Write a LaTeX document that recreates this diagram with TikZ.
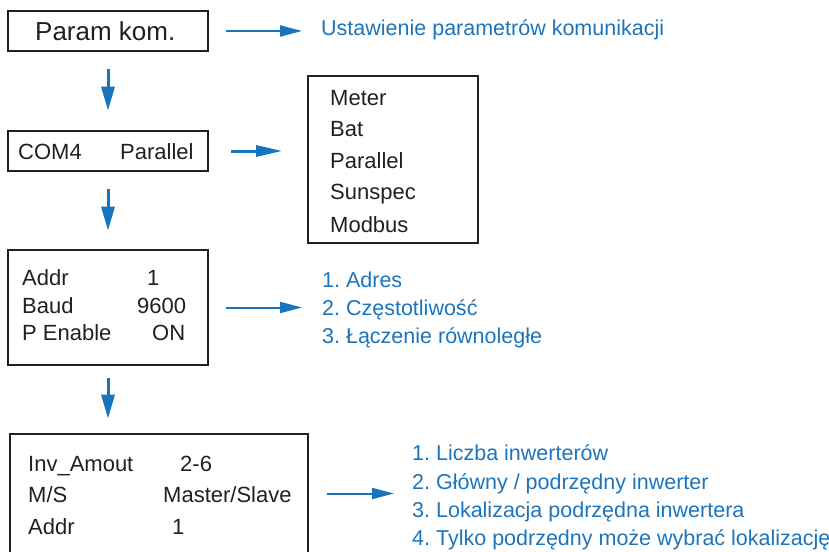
\documentclass[tikz,border=0pt]{standalone}
\usepackage{fontspec}
\setmainfont{Liberation Sans}
\usetikzlibrary{arrows.meta}

\definecolor{arrowblue}{RGB}{24,116,188}
\definecolor{noteblue}{RGB}{28,117,188}
\definecolor{frame}{RGB}{35,31,32}

\tikzset{
  panel/.style={draw=frame, line width=2.6pt, inner sep=0pt},
  listpanel/.style={draw=frame, line width=1.6pt, inner sep=0pt},
  lbl/.style={inner sep=0pt, anchor=base west, text=frame, font=\fontsize{22}{26}\selectfont},
  biglbl/.style={inner sep=0pt, anchor=base west, text=frame, font=\fontsize{26}{30}\selectfont},
  note/.style={inner sep=0pt, anchor=base west, text=noteblue, font=\fontsize{21.5}{25}\selectfont},
  flow/.style={draw=arrowblue, line width=2pt, -{Triangle[length=22pt,width=11pt]}},
  flowthick/.style={draw=arrowblue, line width=3pt, -{Triangle[length=26pt,width=11pt]}},
  flowdown/.style={draw=arrowblue, line width=3pt, -{Triangle[length=24pt,width=13pt]}},
}

\begin{document}
\frenchspacing
\begin{tikzpicture}[x=1pt, y=-1pt]
  \useasboundingbox (0,0) rectangle (829,551);
  \clip (0,0) rectangle (829,551);

  % menu panels
  \node[panel, minimum width=200pt, minimum height=40pt]  (b1) at (108,31) {};
  \node[panel, minimum width=200pt, minimum height=40pt]  (b2) at (108,151) {};
  \node[panel, minimum width=200pt, minimum height=115pt] (b3) at (108,307.5) {};
  \node[panel, minimum width=298pt, minimum height=119pt] (b4) at (159,493.5) {};
  \node[listpanel, minimum width=170pt, minimum height=167pt] (menu) at (393,159.5) {};

  % panel texts
  \node[biglbl] (t1) at (35,41) {Param kom.};

  \node[lbl] (t2a) at (18,159) {COM4};
  \node[lbl] (t2b) at (120,159) {Parallel};

  \node[lbl] (t3a) at (22,285) {Addr};
  \node[lbl] (t3b) at (147,285) {1};
  \node[lbl] (t3c) at (22,313) {Baud};
  \node[lbl] (t3d) at (137,313) {9600};
  \node[lbl] (t3e) at (22,340) {P Enable};
  \node[lbl] (t3f) at (152,340) {ON};

  \node[lbl] (t4a) at (28,471) {Inv\_Amout};
  \node[lbl] (t4b) at (180,471) {2-6};
  \node[lbl] (t4c) at (28,502) {M/S};
  \node[lbl] (t4d) at (163,502) {Master/Slave};
  \node[lbl] (t4e) at (28,534) {Addr};
  \node[lbl] (t4f) at (172,534) {1};

  \node[lbl] (m1) at (330,105) {Meter};
  \node[lbl] (m2) at (330,136) {Bat};
  \node[lbl] (m3) at (330,168) {Parallel};
  \node[lbl] (m4) at (330,199) {Sunspec};
  \node[lbl] (m5) at (330,232) {Modbus};

  % explanations
  \node[note] (u) at (321,36) {Ustawienie parametrów komunikacji};

  \node[note] (n31) at (322,287) {1. Adres};
  \node[note] (n32) at (322,315) {2. Częstotliwość};
  \node[note] (n33) at (322,343) {3. Łączenie równoległe};

  \node[note] (n41) at (412,460) {1. Liczba inwerterów};
  \node[note] (n42) at (412,489) {2. Główny / podrzędny inwerter};
  \node[note] (n43) at (412,517) {3. Lokalizacja podrzędna inwertera};
  \node[note] (n44) at (412,545) {4. Tylko podrzędny może wybrać lokalizację};

  % horizontal connectors
  \draw[flow] ([xshift=17pt]b1.east) -- ([xshift=-19pt]b1.east -| u.west);
  \draw[flowthick] ([xshift=22pt]b2.east) -- ([xshift=-25pt]b2.east -| menu.west);
  \draw[flow] ([xshift=17pt]b3.east) -- ([xshift=-20pt]b3.east -| n31.west);
  \draw[flow] ([xshift=18pt]b4.east) -- ([xshift=-18pt]b4.east -| n41.west);

  % vertical connectors
  \draw[flowdown] ([yshift=-17pt]b1.south) -- ([yshift=19pt]b2.north);
  \draw[flowdown] ([yshift=-17pt]b2.south) -- ([yshift=18pt]b3.north);
  \draw[flowdown] ([yshift=-12pt]b3.south) -- ([yshift=14pt]b4.north -| b3.south);
\end{tikzpicture}
\end{document}
